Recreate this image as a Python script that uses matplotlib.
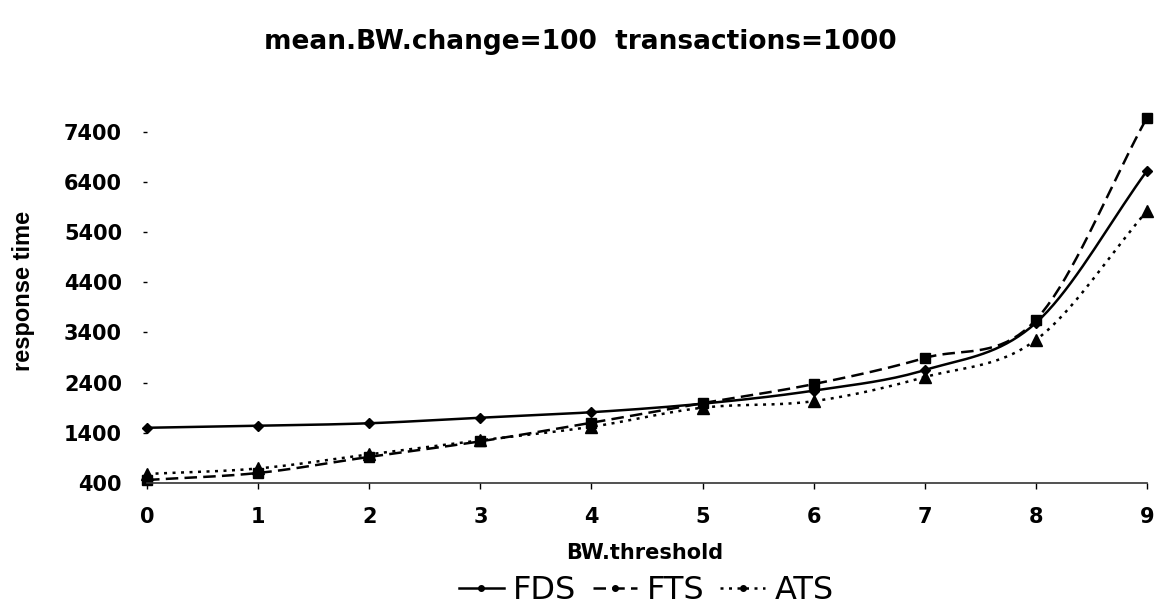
import numpy as np
import matplotlib
matplotlib.use('Agg')
import matplotlib.pyplot as plt
from matplotlib.lines import Line2D

plt.rcParams['font.family'] = ['DejaVu Sans']

thresholds = [0, 1, 2, 3, 4, 5, 6, 7, 8, 9]
fds = [1500, 1540, 1590, 1700, 1810, 1980, 2240, 2650, 3590, 6620]
fts = [460, 600, 920, 1230, 1600, 1990, 2370, 2890, 3650, 7680]
ats = [580, 690, 970, 1250, 1520, 1900, 2030, 2510, 3250, 5820]
yticks = [400, 1400, 2400, 3400, 4400, 5400, 6400, 7400]


def smooth(x, y, n=20):
    # catmull-rom through the points, like the excel smoothed line
    x = np.asarray(x, float)
    y = np.asarray(y, float)
    px = np.concatenate([[2 * x[0] - x[1]], x, [2 * x[-1] - x[-2]]])
    py = np.concatenate([[2 * y[0] - y[1]], y, [2 * y[-1] - y[-2]]])
    xs, ys = [], []
    t = np.linspace(0, 1, n)
    for i in range(1, len(px) - 2):
        for p, out in ((px, xs), (py, ys)):
            p0, p1, p2, p3 = p[i - 1], p[i], p[i + 1], p[i + 2]
            out.extend(0.5 * (2 * p1 + (-p0 + p2) * t
                              + (2 * p0 - 5 * p1 + 4 * p2 - p3) * t ** 2
                              + (-p0 + 3 * p1 - 3 * p2 + p3) * t ** 3))
    return xs, ys


fig = plt.figure(figsize=(11.69, 6.11), dpi=100)
ax = fig.add_axes([0.1258, 0.2095, 0.8554, 0.5998])

series = [('FDS', fds, '-', 'D', 5), ('FTS', fts, (0, (5, 2.5)), 's', 7), ('ATS', ats, (0, (1.2, 2.2)), '^', 8)]
handles = []
for name, vals, ls, mk, ms in series:
    sx, sy = smooth(thresholds, vals)
    ax.plot(sx, sy, color='black', lw=1.8, ls=ls, clip_on=False)
    ax.plot(thresholds, vals, ls='none', marker=mk, ms=ms, color='black', clip_on=False)
    handles.append(Line2D([], [], color='black', lw=1.8, ls=ls, marker='o', ms=4))

ax.set_xlim(0, 9)
ax.set_ylim(400, 7700)
ax.set_xticks(thresholds)
ax.set_yticks(yticks)
ax.spines['top'].set_visible(False)
ax.spines['right'].set_visible(False)
ax.spines['left'].set_visible(False)
ax.spines['bottom'].set_color('#333333')
ax.spines['bottom'].set_linewidth(1.2)
ax.tick_params(axis='x', direction='out', length=4, width=1, labelsize=15, pad=13)
ax.tick_params(axis='y', direction='out', length=3, width=1, labelsize=15, pad=15)
for lab in ax.get_xticklabels() + ax.get_yticklabels():
    lab.set_fontweight('bold')

ax.set_xlabel('BW.threshold', fontsize=15, fontweight='bold')
ax.xaxis.set_label_coords(0.498, -0.165)
ax.set_ylabel('response time', fontsize=17, fontweight='bold', va='center',
              family=['Liberation Sans Narrow', 'DejaVu Sans Condensed', 'Liberation Sans'])
ax.yaxis.set_label_coords(-0.124, 0.524)
fig.text(0.496, 0.931, 'mean.BW.change=100  transactions=1000', ha='center', va='center',
         fontsize=19, fontweight='bold')

fig.legend(handles=handles, labels=[s[0] for s in series], loc='center',
           bbox_to_anchor=(0.553, 0.033), ncol=3, frameon=False, fontsize=23,
           handlelength=1.4, handletextpad=0.3, columnspacing=0.5,
           borderaxespad=0, borderpad=0)

fig.savefig('out.png', dpi=100)
